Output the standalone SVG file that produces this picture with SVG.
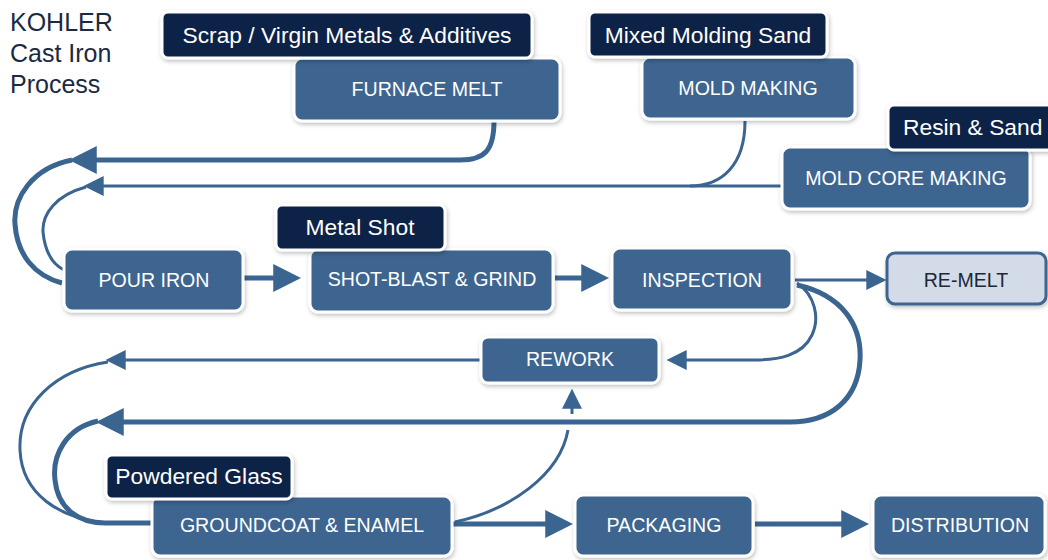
<svg xmlns="http://www.w3.org/2000/svg" width="1048" height="560" viewBox="0 0 1048 560">
<defs>
<filter id="sh" x="-10%" y="-20%" width="130%" height="150%">
<feDropShadow dx="1" dy="2" stdDeviation="2" flood-color="#000" flood-opacity="0.25"/>
</filter>
<marker id="ahT" markerUnits="userSpaceOnUse" markerWidth="28" markerHeight="28" viewBox="0 0 26 26" refX="10" refY="13" orient="auto">
<path d="M0,0 L26,13 L0,26 Z" fill="#3b6591"/>
</marker>
<marker id="ahS" markerUnits="userSpaceOnUse" markerWidth="20" markerHeight="20" viewBox="0 0 18 18" refX="6" refY="9" orient="auto">
<path d="M0,0 L18,9 L0,18 Z" fill="#3b6591"/>
</marker>
</defs>
<style>
.node{fill:#3d6590;stroke:#ffffff;stroke-width:3;filter:url(#sh)}
.lab{fill:#0b2347;stroke:#ffffff;stroke-width:3;filter:url(#sh)}
.nt{font-family:"Liberation Sans",Arial,sans-serif;font-size:19.6px;fill:#ffffff;text-anchor:middle}
.lt{font-family:"Liberation Sans",Arial,sans-serif;font-size:22.8px;fill:#ffffff;text-anchor:middle}
.title{font-family:"Liberation Sans",Arial,sans-serif;font-size:25px;fill:#1b2a40}
.thick{fill:none;stroke:#3b6591;stroke-width:5}
.thin{fill:none;stroke:#3b6591;stroke-width:3}
</style>
<rect width="1048" height="560" fill="#ffffff"/>
<g id="title">
<text class="title" x="10" y="31">KOHLER</text>
<text class="title" x="10" y="62">Cast Iron</text>
<text class="title" x="10" y="93">Process</text>
</g>
<g id="connectors">
<path class="thick" d="M494,121 C494,150 485,160 460,160 L86,160" marker-end="url(#ahT)"/>
<path class="thick" d="M72,160 C32,168 13,198 15,224 C17,255 35,276 62,283"/>
<path class="thin" d="M745,121 C745,165 722,186 690,186 L97,186" marker-end="url(#ahS)"/>
<path class="thin" d="M782,186 L690,186"/>
<path class="thin" d="M86,187 C56,195 42,214 43,232 C45,252 52,264 64,270"/>
<path class="thick" d="M243,278 L284,278" marker-end="url(#ahT)"/>
<path class="thick" d="M555,278 L592,278" marker-end="url(#ahT)"/>
<path class="thin" d="M795,280 L873,280" marker-end="url(#ahS)"/>
<path class="thin" d="M797,283 C815,295 820,318 812,335 C802,356 778,360 755,360 L680,360" marker-end="url(#ahS)"/>
<path class="thin" d="M481,360 L119,360" marker-end="url(#ahS)"/>
<path class="thin" d="M108,362 C55,370 18,405 20,450 C22,495 60,518 105,523"/>
<path class="thin" d="M455,522 C510,510 560,475 568,430"/>
<path class="thin" d="M572,414 L572,402" marker-end="url(#ahS)"/>
<path class="thick" d="M797,285 C842,295 862,325 860,360 C858,400 830,422 790,422 L113,422" marker-end="url(#ahT)"/>
<path class="thick" d="M98,421 C66,428 52,455 55,480 C58,510 80,523 105,523 L152,523"/>
<path class="thick" d="M452,524 L556,524" marker-end="url(#ahT)"/>
<path class="thick" d="M755,524 L852,524" marker-end="url(#ahT)"/>
</g>
<g id="furnace-melt">
<rect class="node" x="294" y="58" width="266" height="63" rx="8"/>
<text class="nt" x="427" y="96">FURNACE MELT</text>
</g>
<g id="scrap-label">
<rect class="lab" x="162" y="12" width="370" height="46" rx="6"/>
<text class="lt" x="347" y="43">Scrap / Virgin Metals &amp; Additives</text>
</g>
<g id="mold-making">
<rect class="node" x="642" y="57" width="213" height="62" rx="8"/>
<text class="nt" x="748" y="95">MOLD MAKING</text>
</g>
<g id="sand-label">
<rect class="lab" x="589" y="12" width="238" height="45" rx="6"/>
<text class="lt" x="708" y="43">Mixed Molding Sand</text>
</g>
<g id="mold-core-making">
<rect class="node" x="782" y="147" width="248" height="62" rx="8"/>
<text class="nt" x="906" y="185">MOLD CORE MAKING</text>
</g>
<g id="resin-label">
<rect class="lab" x="888" y="105" width="172" height="45" rx="6"/>
<text class="lt" x="903" y="135" style="text-anchor:start">Resin &amp; Sand</text>
</g>
<g id="pour-iron">
<rect class="node" x="64" y="249" width="179" height="62" rx="8"/>
<text class="nt" x="154" y="287">POUR IRON</text>
</g>
<g id="shot-blast">
<rect class="node" x="310" y="249" width="243" height="63" rx="8"/>
<text class="nt" x="432" y="286">SHOT-BLAST &amp; GRIND</text>
</g>
<g id="metal-shot-label">
<rect class="lab" x="276" y="205" width="169" height="45" rx="6"/>
<text class="lt" x="360" y="235">Metal Shot</text>
</g>
<g id="inspection">
<rect class="node" x="612" y="248" width="180" height="62" rx="8"/>
<text class="nt" x="702" y="287">INSPECTION</text>
</g>
<g id="re-melt">
<rect x="887" y="253" width="159" height="51" rx="8" fill="#d3dbe8" stroke="#3d6590" stroke-width="3" filter="url(#sh)"/>
<text class="nt" x="966" y="287" style="fill:#1c2738">RE-MELT</text>
</g>
<g id="rework">
<rect class="node" x="481" y="337" width="178" height="46" rx="7"/>
<text class="nt" x="570" y="366">REWORK</text>
</g>
<g id="groundcoat">
<rect class="node" x="152" y="496" width="300" height="60" rx="8"/>
<text class="nt" x="302" y="532">GROUNDCOAT &amp; ENAMEL</text>
</g>
<g id="glass-label">
<rect class="lab" x="106" y="455" width="186" height="44" rx="6"/>
<text class="lt" x="199" y="484">Powdered Glass</text>
</g>
<g id="packaging">
<rect class="node" x="575" y="495" width="178" height="61" rx="8"/>
<text class="nt" x="664" y="532">PACKAGING</text>
</g>
<g id="distribution">
<rect class="node" x="873" y="495" width="172" height="61" rx="8"/>
<text class="nt" x="960" y="532">DISTRIBUTION</text>
</g>
</svg>
